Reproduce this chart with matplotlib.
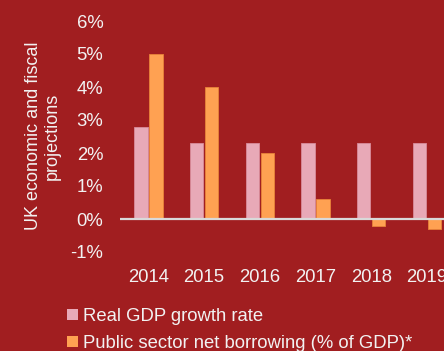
import numpy as np
import matplotlib
matplotlib.use("Agg")
import matplotlib.pyplot as plt
from matplotlib.patches import Patch

years = ["2014", "2015", "2016", "2017", "2018", "2019"]
gdp_growth = [2.8, 2.3, 2.3, 2.3, 2.3, 2.3]
net_borrowing = [5.0, 4.0, 2.0, 0.6, -0.2, -0.3]
y_ticks = [-1, 0, 1, 2, 3, 4, 5, 6]

bg = "#A11E20"
pink = "#E8A9B7"
orange = "#FFA152"
txt = "#F2F2F2"

plt.rcParams["font.family"] = ["Liberation Sans", "DejaVu Sans"]

fig = plt.figure(figsize=(4.44, 3.51), dpi=100, facecolor=bg)
ax = fig.add_axes([120 / 444, 99 / 351, 324 / 444, 231 / 351])
ax.set_facecolor(bg)

x = np.arange(len(years))
w = 0.24
off = 0.135
ax.bar(x - off, gdp_growth, w, color=pink, edgecolor="#D98C9C", linewidth=0.6,
       label="Real GDP growth rate")
ax.bar(x + off, net_borrowing, w, color=orange, edgecolor="#E8833A", linewidth=0.6,
       label="Public sector net borrowing (% of GDP)*")
ax.axhline(0, color="#D9D9D9", linewidth=1.6, zorder=3)

ax.set_xlim(-0.51, 5.305)
ax.set_ylim(-1, 6)
ax.set_xticks(x)
ax.set_xticklabels(years)
ax.set_yticks(y_ticks)
ax.set_yticklabels([f"{v}%" for v in y_ticks])
ax.tick_params(axis="both", length=0, colors=txt, labelsize=13.3)
ax.tick_params(axis="x", pad=12)
ax.tick_params(axis="y", pad=12)
for s in ax.spines.values():
    s.set_visible(False)

fig.text(43 / 444, 1 - 136 / 351, "UK economic and fiscal\nprojections",
         rotation=90, ha="center", va="center", color=txt, fontsize=13,
         linespacing=1.15)

handles = [Patch(facecolor=pink, edgecolor="none"),
           Patch(facecolor=orange, edgecolor="none")]
fig.legend(handles, ["Real GDP growth rate", "Public sector net borrowing (% of GDP)*"],
           loc="upper left", bbox_to_anchor=(67 / 444, 1 - 308 / 351),
           frameon=False, fontsize=13.3, labelcolor=txt,
           handlelength=0.6, handleheight=0.5, handletextpad=0.25,
           labelspacing=0.55, borderpad=0, borderaxespad=0)

fig.savefig("out.png", dpi=100, facecolor=bg)
